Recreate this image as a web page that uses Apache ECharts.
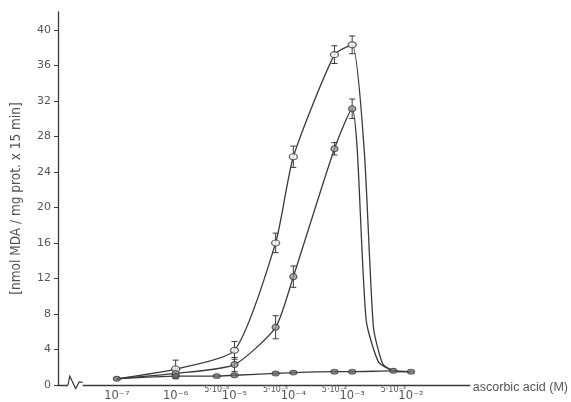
<!DOCTYPE html>
<html>
<head>
<meta charset="utf-8">
<script src="https://cdn.jsdelivr.net/npm/echarts@6/dist/echarts.min.js"></script>
<style>
html,body{margin:0;padding:0;background:#fff;}
#c{width:571px;height:402px;}
</style>
</head>
<body>
<div id="c"></div>
<script>
// ---- data (concentration in M, MDA in nmol/mg prot x 15 min) ----
// Curve A (open circles) measured points
const concA = [1e-6, 1e-5, 5e-5, 1e-4, 5e-4, 1e-3];
const mdaA  = [1.8, 3.9, 16.0, 25.7, 37.2, 38.3];
const errA  = [1.0, 1.0, 1.1, 1.2, 1.0, 1.0];
// Curve A: extra points (start and steep fall)
const traceConcA = [1e-7, 1.6e-3, 2.3e-3, 3.3e-3, 5e-3, 1e-2];
const traceMdaA  = [0.7, 26.5, 6.5, 2.4, 1.6, 1.5];

// Curve B (half-filled circles) measured points
const concB = [1e-6, 1e-5, 5e-5, 1e-4, 5e-4, 1e-3];
const mdaB  = [1.3, 2.3, 6.5, 12.2, 26.6, 31.1];
const errB  = [0.6, 0.8, 1.3, 1.2, 0.7, 1.1];
const traceConcB = [1e-7, 1.22e-3, 1.73e-3, 2.8e-3, 5e-3, 1e-2];
const traceMdaB  = [0.7, 26.5, 7.3, 2.6, 1.6, 1.5];

// Curve C (filled dots, flat)
const concC = [1e-7, 1e-6, 5e-6, 1e-5, 5e-5, 1e-4, 5e-4, 1e-3, 5e-3, 1e-2];
const mdaC  = [0.7, 1.0, 1.0, 1.1, 1.3, 1.4, 1.5, 1.5, 1.6, 1.5];

// Axis ticks
const xTickConc   = [1e-7, 1e-6, 5e-6, 1e-5, 5e-5, 1e-4, 5e-4, 1e-3, 5e-3, 1e-2];
const xTickLabels = ['10⁻⁷', '10⁻⁶', '5·10⁻⁶', '10⁻⁵', '5·10⁻⁵', '10⁻⁴', '5·10⁻⁴', '10⁻³', '5·10⁻³', '10⁻²'];
const yTicks = [0, 4, 8, 12, 16, 20, 24, 28, 32, 36, 40];

const xName = 'ascorbic acid (M)';
const yName = '[nmol MDA / mg prot. x 15 min]';

// ---- build ----
const lg = v => Math.log10(v);
function pairs(cs, vs) { return cs.map((c, i) => [lg(c), vs[i]]); }
function curve(cs, vs, tcs, tvs) {
  return pairs(cs, vs).concat(pairs(tcs, tvs)).sort((a, b) => a[0] - b[0]);
}
function errData(cs, vs, es) { return cs.map((c, i) => [lg(c), vs[i], es[i]]); }

const isMinor = i => xTickLabels[i].indexOf('·') >= 0;
const majorVals = xTickConc.filter((c, i) => !isMinor(i)).map(lg);
const minorVals = xTickConc.filter((c, i) => isMinor(i)).map(lg);
function tickLabel(v) {
  for (let i = 0; i < xTickConc.length; i++) {
    if (Math.abs(lg(xTickConc[i]) - v) < 1e-6) return xTickLabels[i];
  }
  return '';
}

const ink = '#3a3a3a';
const txt = '#555';

const errSeries = (data) => ({
  type: 'custom',
  data: data,
  z: 3,
  renderItem: function (params, api) {
    const x = api.value(0), y = api.value(1), e = api.value(2);
    const top = api.coord([x, y + e]);
    const bot = api.coord([x, y - e]);
    const w = 3;
    const style = { stroke: ink, lineWidth: 1 };
    return {
      type: 'group',
      children: [
        { type: 'line', shape: { x1: top[0], y1: top[1], x2: bot[0], y2: bot[1] }, style: style },
        { type: 'line', shape: { x1: top[0] - w, y1: top[1], x2: top[0] + w, y2: top[1] }, style: style },
        { type: 'line', shape: { x1: bot[0] - w, y1: bot[1], x2: bot[0] + w, y2: bot[1] }, style: style }
      ]
    };
  }
});

const lineSeries = (data) => ({
  type: 'line',
  data: data,
  showSymbol: false,
  smooth: 0.2,
  lineStyle: { color: ink, width: 1.3 },
  z: 2,
  silent: true
});

const chart = echarts.init(document.getElementById('c'), null, { renderer: 'canvas', width: 571, height: 402 });

const option = {
  backgroundColor: '#ffffff',
  animation: false,
  grid: { left: 58, right: 100, top: 12, bottom: 17, containLabel: false },
  xAxis: [{
    type: 'value',
    min: -8,
    max: -1,
    name: xName,
    nameLocation: 'end',
    nameGap: 3,
    nameTextStyle: { color: txt, fontSize: 12.5, fontFamily: 'Liberation Sans', verticalAlign: 'top', padding: [-4, 0, 0, 0] },
    axisLine: { lineStyle: { color: ink, width: 1.3 } },
    axisTick: { show: false },
    splitLine: { show: false },
    axisLabel: {
      customValues: majorVals,
      showMinLabel: true,
      showMaxLabel: true,
      hideOverlap: false,
      margin: 5,
      color: txt,
      fontSize: 11.5,
      fontFamily: 'DejaVu Sans',
      formatter: tickLabel
    }
  }, {
    type: 'value',
    min: -8,
    max: -1,
    position: 'bottom',
    axisLine: { show: false },
    axisTick: { show: false },
    splitLine: { show: false },
    axisLabel: {
      customValues: minorVals,
      showMinLabel: true,
      showMaxLabel: true,
      hideOverlap: false,
      margin: 1,
      color: txt,
      fontSize: 8,
      fontFamily: 'DejaVu Sans',
      formatter: tickLabel
    }
  }],
  yAxis: {
    type: 'value',
    min: 0,
    max: 42,
    name: yName,
    nameLocation: 'middle',
    nameGap: 35,
    nameRotate: 90,
    nameTextStyle: { color: txt, fontSize: 13.5, fontFamily: 'DejaVu Sans Condensed, DejaVu Sans' },
    axisLine: { lineStyle: { color: ink, width: 1.3 } },
    axisTick: { customValues: yTicks, length: 4, lineStyle: { color: ink } },
    splitLine: { show: false },
    axisLabel: {
      customValues: yTicks,
      margin: 7,
      color: txt,
      fontSize: 11,
      fontFamily: 'DejaVu Sans'
    }
  },
  series: [
    lineSeries(curve(concA, mdaA, traceConcA, traceMdaA)),
    lineSeries(curve(concB, mdaB, traceConcB, traceMdaB)),
    lineSeries(pairs(concC, mdaC)),
    errSeries(errData(concA, mdaA, errA)),
    errSeries(errData(concB, mdaB, errB)),
    {
      type: 'scatter', data: pairs(concA, mdaA), symbol: 'circle', symbolSize: [8, 6], z: 5,
      itemStyle: { color: '#ffffff', borderColor: ink, borderWidth: 1.2 }
    },
    {
      type: 'scatter', data: pairs(concB, mdaB), symbol: 'circle', symbolSize: [7, 6], z: 5,
      itemStyle: { color: '#9a9a9a', borderColor: ink, borderWidth: 1.2 }
    },
    {
      type: 'scatter', data: pairs(concC, mdaC), symbol: 'circle', symbolSize: [7, 5], z: 5,
      itemStyle: { color: '#6a6a6a', borderColor: ink, borderWidth: 1 }
    }
  ]
};
chart.setOption(option);

// axis-break zigzag on the x axis near the origin
const p = (x, y) => chart.convertToPixel({ gridIndex: 0 }, [x, y]);
const a0 = p(-7.83, 0), a1 = p(-7.58, 0);
chart.setOption({
  graphic: [
    { type: 'rect', shape: { x: a0[0], y: a0[1] - 2, width: a1[0] - a0[0], height: 4 }, style: { fill: '#fff' }, z: 10 },
    { type: 'polyline', z: 11,
      shape: { points: [p(-7.83, 0), p(-7.8, 1.0), p(-7.7, -0.4), p(-7.64, 0.35), p(-7.58, 0.3)] },
      style: { stroke: ink, lineWidth: 1.2, fill: null } }
  ]
});
</script>
</body>
</html>
